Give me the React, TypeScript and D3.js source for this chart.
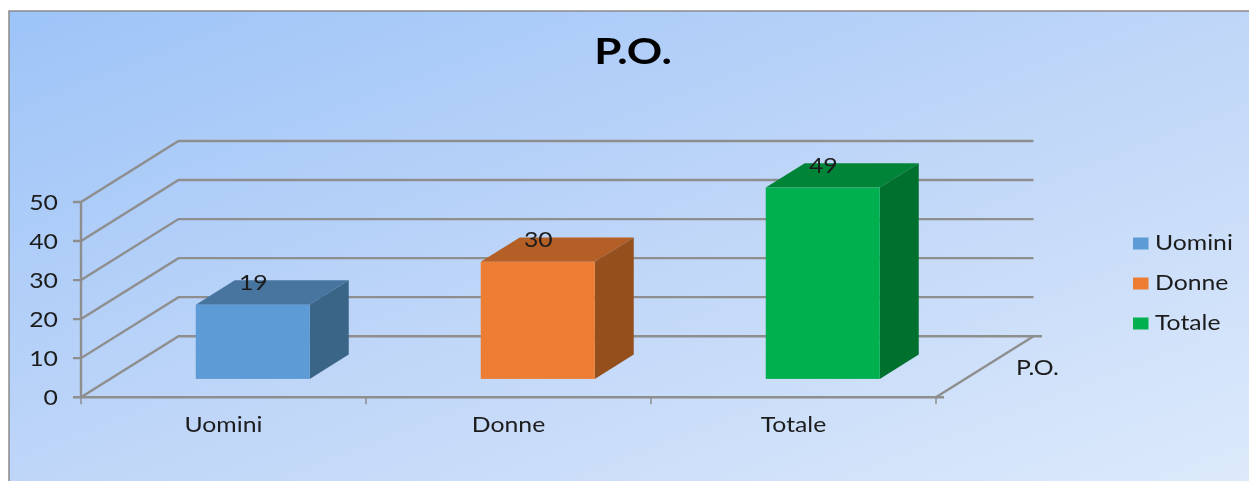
import React from "react";
import * as d3 from "d3";

const categories = ["Uomini", "Donne", "Totale"];
const values = [19, 30, 49];
const faces = [
  { front: "#5B9BD5", top: "#46759F", side: "#3A6587" },
  { front: "#ED7D31", top: "#B45F25", side: "#954F1F" },
  { front: "#00B050", top: "#008439", side: "#00702F" },
];
const yTicks = [0, 10, 20, 30, 40, 50];
const seriesLabel = "P.O.";
const title = "P.O.";

const W = 1249, H = 481;
const FONT = "Lato, sans-serif";
const GRID = "#8E8E8E";

const x = d3.scaleBand<string>().domain(categories).range([81, 936]).paddingInner(0.6).paddingOuter(0.3);
const catTicks = d3.scaleLinear().domain([0, 3]).range([81, 936]);
const y = d3.scaleLinear().domain([0, 50]).range([397.2, 202]);
const depthX = d3.scaleLinear().domain([0, 1]).range([0, 97.5]);
const depthY = d3.scaleLinear().domain([0, 1]).range([0, -61]);
const line = d3.line();

const BAR_FRONT = 0.3;
const BAR_BACK = 0.7;

function Stretched({ x: tx, y: ty, sx = 1.18, size = 21, anchor = "start", weight = 400, fill = "#1c1c1c", children }: any) {
  return (
    <text transform={`translate(${tx},${ty}) scale(${sx},1)`} fontSize={size} fontFamily={FONT} fontWeight={weight} textAnchor={anchor} fill={fill}>
      {children}
    </text>
  );
}

export default function App() {
  const dx = depthX(1), dy = depthY(1);
  const bx = depthX(BAR_BACK) - depthX(BAR_FRONT);
  const by = depthY(BAR_BACK) - depthY(BAR_FRONT);
  return (
    <svg width={W} height={H} viewBox={`0 0 ${W} ${H}`} style={{ position: "absolute", left: 0, top: 0, display: "block" }}>
      <defs>
        <linearGradient id="bg" x1="0" y1="0" x2="1" y2="1">
          <stop offset="0" stopColor="#9DC4F8" />
          <stop offset="0.5" stopColor="#BFD6F8" />
          <stop offset="1" stopColor="#DDEAFB" />
        </linearGradient>
        <filter id="soft" x="-5%" y="-5%" width="110%" height="110%">
          <feGaussianBlur stdDeviation="0.45" />
        </filter>
      </defs>
      <rect width={W} height={H} fill="#fff" />
      <rect x={9} y={11} width={W} height={H} fill="url(#bg)" stroke="#8A8A8A" strokeWidth={1.5} />
      <g filter="url(#soft)">
        {yTicks.map((t) => (
          <path key={t} fill="none" stroke={GRID} strokeWidth={2.4}
            d={line([[73, y(t)], [81, y(t)], [81 + dx, y(t) + dy], [t === 0 ? 1042 : 936 + dx, y(t) + dy]]) as string} />
        ))}
        <path d={line([[81, y(50)], [81, y(0)]]) as string} stroke={GRID} strokeWidth={2.4} fill="none" />
        <path d={line([[81, y(0)], [944, y(0)]]) as string} stroke={GRID} strokeWidth={2.4} fill="none" />
        <path d={line([[936, y(0)], [936 + dx, y(0) + dy]]) as string} stroke={GRID} strokeWidth={2.4} fill="none" />
        {[0, 1, 2, 3].map((i) => (
          <path key={i} d={line([[catTicks(i), y(0)], [catTicks(i), y(0) + 7]]) as string} stroke={GRID} strokeWidth={1.5} fill="none" />
        ))}
        {categories.map((c, i) => {
          const x0 = (x(c) as number) + depthX(BAR_FRONT);
          const x1 = x0 + x.bandwidth();
          const yb = y(0) + depthY(BAR_FRONT);
          const yt = y(values[i]) + depthY(BAR_FRONT);
          return (
            <g key={c}>
              <path fill={faces[i].top} d={(line([[x0, yt], [x0 + bx, yt + by], [x1 + bx, yt + by], [x1, yt]]) as string) + "Z"} />
              <path fill={faces[i].side} d={(line([[x1, yt], [x1 + bx, yt + by], [x1 + bx, yb + by], [x1, yb]]) as string) + "Z"} />
              <rect x={x0} y={yt} width={x.bandwidth()} height={yb - yt} fill={faces[i].front} />
              <Stretched x={(x0 + x1) / 2 + 0.5} y={yt - 15} anchor="middle">{values[i]}</Stretched>
            </g>
          );
        })}
        {yTicks.map((t) => (
          <Stretched key={t} x={58} y={y(t) + 7.5} anchor="end">{t}</Stretched>
        ))}
        {categories.map((c) => (
          <Stretched key={c} x={(x(c) as number) + x.bandwidth() / 2} y={432} anchor="middle">{c}</Stretched>
        ))}
        <Stretched x={1016} y={375}>{seriesLabel}</Stretched>
        {categories.map((c, i) => (
          <g key={c}>
            <rect x={1133} y={237.5 + i * 40} width={15.5} height={12} fill={faces[i].front} />
            <Stretched x={1155} y={250 + i * 40}>{c}</Stretched>
          </g>
        ))}
        <Stretched x={633} y={64} size={36} anchor="middle" weight={700} sx={1.22} fill="#000">{title}</Stretched>
      </g>
    </svg>
  );
}
